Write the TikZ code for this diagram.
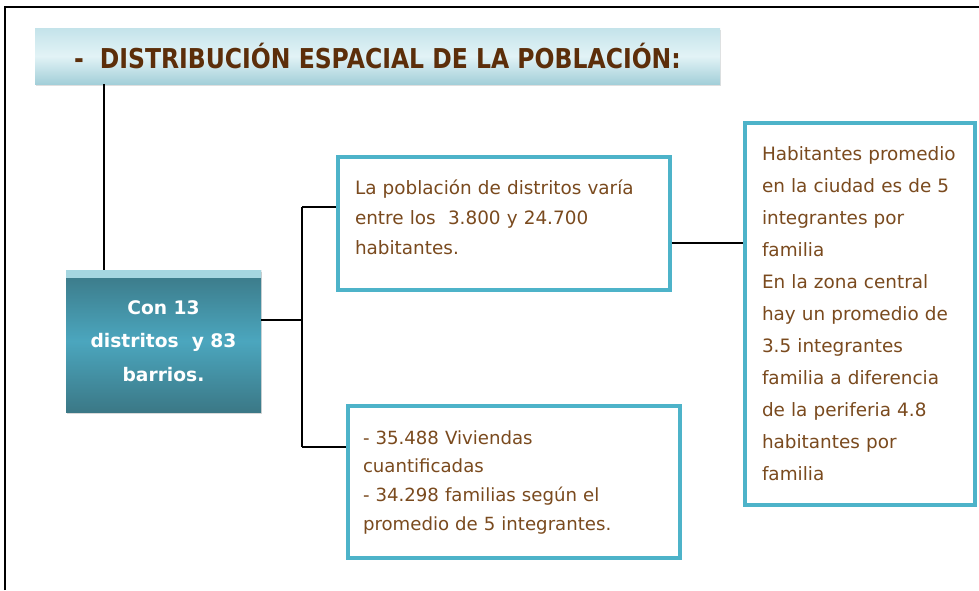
\documentclass[tikz,border=0pt]{standalone}
\usepackage{fontspec}
\setmainfont{DejaVu Sans}
\newfontfamily\titfont{DejaVu Sans}[FakeStretch=0.86]
\usetikzlibrary{positioning,shadows}
\definecolor{cyanline}{HTML}{4DB3C9}
\definecolor{txtbrown}{HTML}{7A4A1E}
\definecolor{titbrown}{HTML}{5C2E0A}
\definecolor{tealdark}{HTML}{3B7886}
\definecolor{tealmid}{HTML}{4BA6BE}
\definecolor{tealtop}{HTML}{A5D6E0}
\definecolor{skytop}{HTML}{C4E3EA}
\definecolor{skymid}{HTML}{E2F3F6}
\definecolor{skybot}{HTML}{A3CFD9}

\begin{document}
\begin{tikzpicture}[x=0.75pt,y=-0.75pt,
  titbox/.style={rectangle,inner sep=0pt,minimum width=513.75pt,minimum height=42pt,
    top color=skytop,bottom color=skybot,middle color=skymid,
    drop shadow={shadow xshift=0.8pt,shadow yshift=-1.5pt,opacity=0.25},
    font=\titfont\fontsize{20.5}{22}\selectfont\bfseries,text=titbrown},
  mainbox/.style={rectangle,inner sep=0pt,minimum width=146.25pt,minimum height=106.5pt,
    top color=tealdark,bottom color=tealdark,middle color=tealmid,
    path picture={\fill[tealtop] (path picture bounding box.north west)
      rectangle ([yshift=-6pt]path picture bounding box.north east);},
    drop shadow={shadow xshift=0.8pt,shadow yshift=-1.5pt,opacity=0.3},
    align=center,text=white,font=\fontsize{14}{25}\selectfont\bfseries},
  infobox/.style={rectangle,draw=cyanline,line width=2.6pt,fill=white,
    inner ysep=0pt,align=left,text=txtbrown,
    drop shadow={shadow xshift=0.8pt,shadow yshift=-1.5pt,opacity=0.25}},
  link/.style={line width=2pt}]
  \useasboundingbox (0,0) rectangle (979,590);
  % marco
  \draw[line width=1.5pt] (5,590) -- (5,7) -- (979,7);

  \node[titbox] (tit) at (377.5,56) {-\hspace{12pt}DISTRIBUCIÓN ESPACIAL DE LA POBLACIÓN:};
  \node[mainbox] (cen) at (163.5,341) {Con 13\\distritos~~y 83\\barrios.};
  \node[infobox,inner xsep=12.75pt,text width=223.5pt,minimum height=99.75pt,
    font=\fontsize{13.8}{22.5}\selectfont] (pob) at (504,223.5)
    {La población de distritos varía\\entre los~~3.800 y 24.700\\habitantes.\\[-13pt]\mbox{}};
  \node[infobox,inner xsep=11.25pt,text width=226.5pt,minimum height=114pt,
    font=\fontsize{13.6}{21.5}\selectfont] (viv) at (514,482)
    {- 35.488 Viviendas\\cuantificadas\\- 34.298 familias según el\\promedio de 5 integrantes.};
  \node[infobox,inner xsep=12.75pt,text width=147pt,minimum height=286.5pt,
    font=\fontsize{13.8}{24}\selectfont] (hab) at (860,314)
    {Habitantes promedio\\en la ciudad es de 5\\integrantes por\\familia\\En la zona central\\hay un promedio de\\3.5 integrantes\\familia a diferencia\\de la periferia 4.8\\habitantes por\\familia};

  % conectores
  \coordinate (drop) at (104,84);
  \coordinate (spine) at (302,320);
  \coordinate (spineT) at (302,207);
  \coordinate (spineB) at (302,447);
  \coordinate (bridge) at (705,243);
  \draw[link] (tit.south -| drop) -- (cen.north -| drop);
  \draw[link] (cen.east |- spine) -- (spine);
  \draw[link] (spineT) -- (spineB);
  \draw[link] (spineT) -- (pob.west |- spineT);
  \draw[link] (spineB) -- (viv.west |- spineB);
  \draw[link] (pob.east |- bridge) -- (hab.west |- bridge);
\end{tikzpicture}
\end{document}
